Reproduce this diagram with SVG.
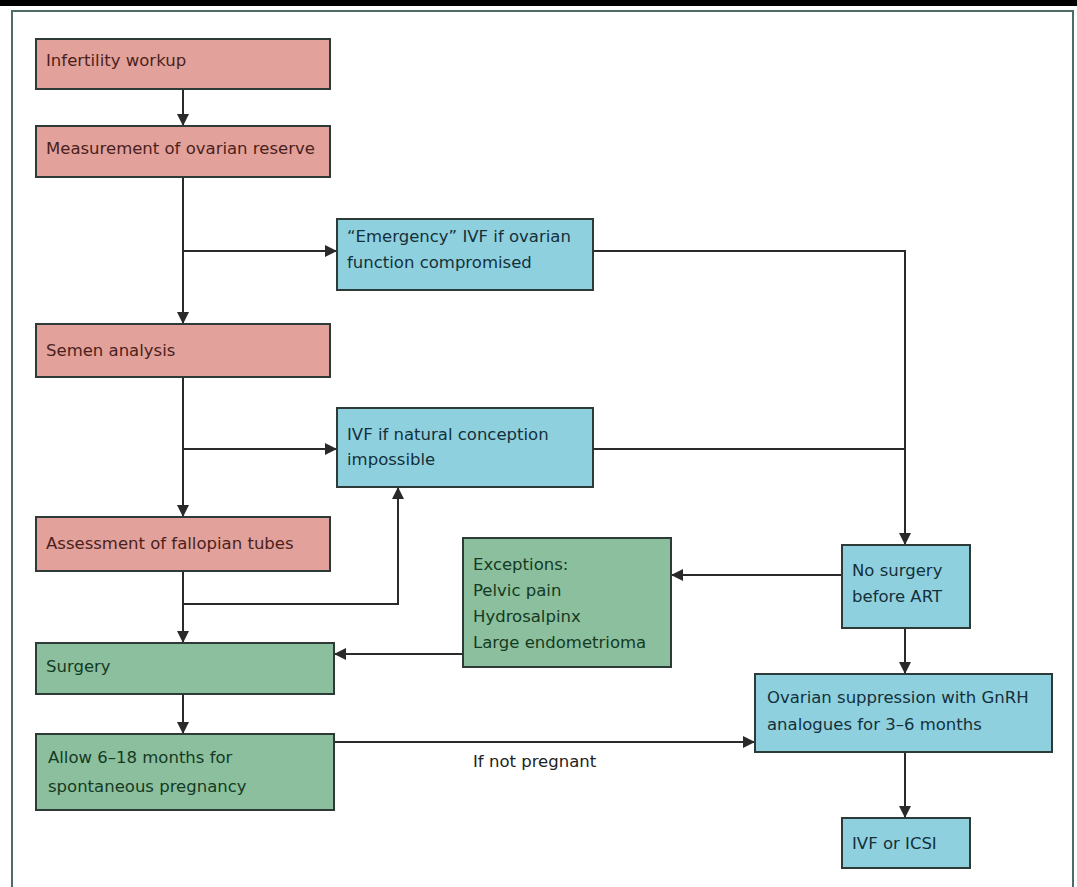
<svg xmlns="http://www.w3.org/2000/svg" width="1077" height="887" viewBox="0 0 1077 887">
<style>
.box{stroke:#2e3a38;stroke-width:2}
.pink{fill:#e2a19b}
.blue{fill:#8fd0df}
.green{fill:#8bbf9e}
text{font-family:"DejaVu Sans","Liberation Sans",Arial,sans-serif;font-size:16.5px}
.tp{fill:#4a1f1c}
.tb{fill:#14303a}
.tg{fill:#143a22}
.c{fill:none;stroke:#2a2a2a;stroke-width:2}
</style>
<defs>
<marker id="ah" viewBox="0 0 10 10" refX="10" refY="5" markerWidth="12" markerHeight="12" markerUnits="userSpaceOnUse" orient="auto">
<path d="M0,0 L10,5 L0,10 Z" fill="#2a2a2a"/>
</marker>
</defs>
<rect x="0" y="0" width="1077" height="887" fill="#ffffff"/>
<rect x="0" y="0" width="1077" height="6" fill="#000000"/>
<path d="M12,887 V11 H1073 V887" fill="none" stroke="#4f6b66" stroke-width="2"/>

<g id="connectors">
<line class="c" x1="183" y1="89" x2="183" y2="126" marker-end="url(#ah)"/>
<line class="c" x1="183" y1="177" x2="183" y2="324" marker-end="url(#ah)"/>
<line class="c" x1="183" y1="251" x2="337" y2="251" marker-end="url(#ah)"/>
<polyline class="c" points="593,251 905,251 905,545" marker-end="url(#ah)"/>
<line class="c" x1="183" y1="377" x2="183" y2="517" marker-end="url(#ah)"/>
<line class="c" x1="183" y1="449" x2="337" y2="449" marker-end="url(#ah)"/>
<line class="c" x1="593" y1="449" x2="905" y2="449"/>
<line class="c" x1="183" y1="571" x2="183" y2="643" marker-end="url(#ah)"/>
<polyline class="c" points="183,604 398,604 398,487" marker-end="url(#ah)"/>
<line class="c" x1="842" y1="575" x2="671" y2="575" marker-end="url(#ah)"/>
<line class="c" x1="463" y1="654" x2="334" y2="654" marker-end="url(#ah)"/>
<line class="c" x1="183" y1="694" x2="183" y2="734" marker-end="url(#ah)"/>
<line class="c" x1="334" y1="742" x2="755" y2="742" marker-end="url(#ah)"/>
<line class="c" x1="905" y1="628" x2="905" y2="674" marker-end="url(#ah)"/>
<line class="c" x1="905" y1="752" x2="905" y2="818" marker-end="url(#ah)"/>
<text x="473" y="767" fill="#222">If not pregnant</text>
</g>

<g id="n1"><rect class="box pink" x="36" y="39" width="294" height="50"/><text class="tp" x="46" y="66">Infertility workup</text></g>
<g id="n2"><rect class="box pink" x="36" y="126" width="294" height="51"/><text class="tp" x="46" y="154">Measurement of ovarian reserve</text></g>
<g id="n3"><rect class="box blue" x="337" y="219" width="256" height="71"/><text class="tb" x="347" y="242">“Emergency” IVF if ovarian</text><text class="tb" x="347" y="268">function compromised</text></g>
<g id="n4"><rect class="box pink" x="36" y="324" width="294" height="53"/><text class="tp" x="46" y="356">Semen analysis</text></g>
<g id="n5"><rect class="box blue" x="337" y="408" width="256" height="79"/><text class="tb" x="347" y="440">IVF if natural conception</text><text class="tb" x="347" y="465">impossible</text></g>
<g id="n6"><rect class="box pink" x="36" y="517" width="294" height="54"/><text class="tp" x="46" y="549">Assessment of fallopian tubes</text></g>
<g id="n7"><rect class="box green" x="463" y="538" width="208" height="129"/><text class="tg" x="473" y="570">Exceptions:</text><text class="tg" x="473" y="596">Pelvic pain</text><text class="tg" x="473" y="622">Hydrosalpinx</text><text class="tg" x="473" y="648">Large endometrioma</text></g>
<g id="n8"><rect class="box blue" x="842" y="545" width="128" height="83"/><text class="tb" x="852" y="576">No surgery</text><text class="tb" x="852" y="602">before ART</text></g>
<g id="n9"><rect class="box green" x="36" y="643" width="298" height="51"/><text class="tg" x="46" y="672">Surgery</text></g>
<g id="n10"><rect class="box blue" x="755" y="674" width="297" height="78"/><text class="tb" x="767" y="703">Ovarian suppression with GnRH</text><text class="tb" x="767" y="730">analogues for 3–6 months</text></g>
<g id="n11"><rect class="box green" x="36" y="734" width="298" height="76"/><text class="tg" x="48" y="763">Allow 6–18 months for</text><text class="tg" x="48" y="792">spontaneous pregnancy</text></g>
<g id="n12"><rect class="box blue" x="842" y="818" width="128" height="50"/><text class="tb" x="852" y="849">IVF or ICSI</text></g>
</svg>
